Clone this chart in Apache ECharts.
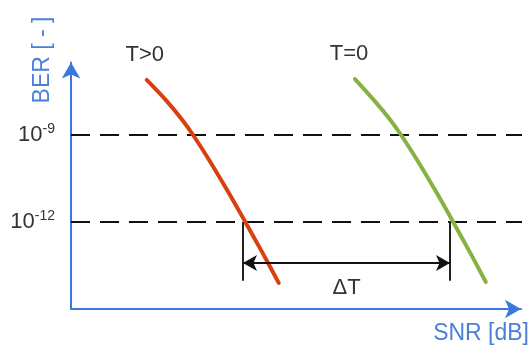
<!DOCTYPE html>
<html>
<head>
<meta charset="utf-8">
<script src="https://cdn.jsdelivr.net/npm/echarts@6/dist/echarts.min.js"></script>
<style>
  html, body { margin: 0; padding: 0; background: #fff; }
  #chart { width: 532px; height: 347px; }
</style>
</head>
<body>
<div id="chart"></div>
<script>
// x: SNR (arbitrary dB units), y: log10(BER)
var hotSnr = [7.57, 9.47, 11.13, 12.21, 13.81, 15.61, 17.43, 19.1, 20.77];
var hotBer = [-7.1, -7.79, -8.48, -9.0, -9.86, -10.9, -12.0, -13.03, -14.1];
var coldSnr = [28.4, 30.27, 31.93, 33.01, 34.61, 36.41, 38.22, 39.87, 41.48];
var coldBer = [-7.07, -7.79, -8.48, -9.0, -9.86, -10.9, -12.0, -13.03, -14.07];
var thresholds = [-9, -12];
var deltaFrom = 17.2;   // SNR where T>0 reaches 1e-12
var deltaTo = 37.9;     // SNR where T=0 reaches 1e-12
var markerBottom = -14.03;
var arrowLevel = -13.41;

var axisBlue = "#3b78de";
var textBlue = "#4a80da";
var font = "Liberation Sans, Arial, sans-serif";

function curve(name, xs, ys, color, offset) {
  return {
    type: "line",
    name: name,
    smooth: 0.3,
    symbol: "none",
    clip: false,
    lineStyle: { color: color, width: 4, cap: "round" },
    data: xs.map(function (x, i) {
      return [x, ys[i]];
    }),
    markPoint: {
      silent: true,
      symbol: "circle",
      symbolSize: 0,
      label: {
        show: true,
        position: "top",
        distance: 14,
        offset: offset,
        formatter: name,
        color: "#333",
        fontSize: 22,
        fontFamily: font
      },
      data: [{ coord: [xs[0], ys[0]] }]
    }
  };
}

var series = [];
thresholds.forEach(function (t) {
  series.push({
    type: "line",
    symbol: "none",
    clip: false,
    silent: true,
    lineStyle: { color: "#111", width: 2, type: [19, 10] },
    data: [[0, t], [45.7, t]]
  });
});
[deltaFrom, deltaTo].forEach(function (x) {
  series.push({
    type: "line",
    symbol: "none",
    silent: true,
    lineStyle: { color: "#222", width: 2 },
    data: [[x, thresholds[1]], [x, markerBottom]]
  });
});
series.push(curve("T>0", hotSnr, hotBer, "#d8400f", [-2, 0]));
series.push(curve("T=0", coldSnr, coldBer, "#86b144", [-6, 0]));
series.push({
  type: "line",
  data: [],
  markLine: {
    silent: true,
    symbol: ["arrow", "arrow"],
    symbolSize: [12, 14],
    lineStyle: { color: "#111", width: 2, type: "solid" },
    label: {
      show: true,
      position: "insideMiddleBottom",
      distance: 14,
      formatter: "ΔT",
      color: "#333",
      fontSize: 22,
      fontFamily: font
    },
    data: [[{ coord: [deltaFrom, arrowLevel] }, { coord: [deltaTo, arrowLevel] }]]
  }
});

var chart = echarts.init(document.getElementById("chart"));
chart.setOption({
  animation: false,
  textStyle: { fontFamily: font },
  grid: { left: 71, right: 11, top: 62.5, bottom: 38 },
  xAxis: {
    type: "value",
    min: 0,
    max: 45,
    name: "SNR [dB]",
    nameLocation: "end",
    nameGap: 8,
    nameTextStyle: {
      color: textBlue,
      fontSize: 23,
      align: "right",
      verticalAlign: "top",
      padding: [13, 0, 0, 0]
    },
    axisLine: {
      onZero: false,
      symbol: ["none", "arrow"],
      symbolSize: [14, 16],
      lineStyle: { color: axisBlue, width: 2 }
    },
    axisTick: { show: false },
    axisLabel: { show: false },
    splitLine: { show: false }
  },
  yAxis: {
    type: "value",
    min: -15,
    max: -6.5,
    axisLine: {
      show: true,
      onZero: false,
      symbol: ["none", "arrow"],
      symbolSize: [14, 16],
      lineStyle: { color: axisBlue, width: 2 }
    },
    axisTick: { show: false },
    splitLine: { show: false },
    axisLabel: {
      show: true,
      customValues: thresholds,
      margin: 16,
      formatter: function (v) {
        return "{b|10}{s|" + v + "}";
      },
      rich: {
        b: { fontSize: 22, color: "#333", fontFamily: font },
        s: { fontSize: 14, color: "#333", fontFamily: font, padding: [0, 0, 12, 0] }
      }
    }
  },
  graphic: [{
    type: "text",
    x: 43,
    y: 60,
    rotation: Math.PI / 2,
    style: {
      text: "BER [ - ]",
      fill: textBlue,
      fontSize: 23,
      fontFamily: font,
      align: "center",
      verticalAlign: "middle"
    }
  }],
  series: series
});
window.onresize = function () {
  chart.resize();
};
</script>
</body>
</html>
